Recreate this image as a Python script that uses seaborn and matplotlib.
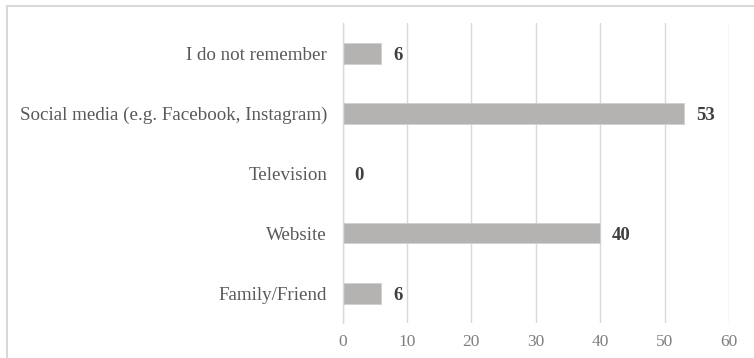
import matplotlib
matplotlib.use("Agg")
import matplotlib.pyplot as plt
import seaborn as sns
import pandas as pd
from matplotlib.patches import Rectangle

categories = ["I do not remember", "Social media (e.g. Facebook, Instagram)",
              "Television", "Website", "Family/Friend"]
values = [6, 53, 0, 40, 6]
xticks = [0, 10, 20, 30, 40, 50, 60]

df = pd.DataFrame({"category": categories, "value": values})

sns.set_theme(style="white")
plt.rcParams["font.family"] = ["Liberation Serif", "DejaVu Serif"]

fig = plt.figure(figsize=(7.54, 3.58), dpi=100)
ax = fig.add_axes([342.5 / 754, 1 - 323 / 358, (729 - 342.5) / 754, 300 / 358])

sns.barplot(data=df, x="value", y="category", order=categories, orient="h",
            color="#b4b3b1", width=0.35, saturation=1, ax=ax,
            edgecolor="#d0d0d0", linewidth=0.6)

ax.set_xlim(0, 60)
ax.set_ylim(4.5, -0.5)
ax.set_xticks(xticks)
ax.set_xticklabels([str(t) for t in xticks], fontsize=12.5, color="#7f7f7f")
ax.tick_params(axis="x", length=0, pad=8)
ax.tick_params(axis="y", length=0, pad=11)
for lbl in ax.get_yticklabels():
    lbl.set_fontsize(13.7)
    lbl.set_color("#595959")
ax.set_xlabel("")
ax.set_ylabel("")
ax.grid(axis="x", color="#d9d9d9", linewidth=1)
ax.set_axisbelow(True)
for s in ["top", "right", "bottom"]:
    ax.spines[s].set_visible(False)
ax.spines["left"].set_color("#d9d9d9")
ax.spines["left"].set_linewidth(1)

for i, v in enumerate(values):
    ax.annotate(str(v), xy=(v, i), xytext=(12, -2), textcoords="offset pixels",
                va="center", ha="left", fontsize=13.5, fontweight="bold", color="#404040")

fig.patches.append(Rectangle((6.5 / 754, -0.1), 1.2, 1 - 5.5 / 358 + 0.1,
                             transform=fig.transFigure, fill=False,
                             edgecolor="#d9d9d9", linewidth=1.5))

fig.savefig("out.png", dpi=100)
